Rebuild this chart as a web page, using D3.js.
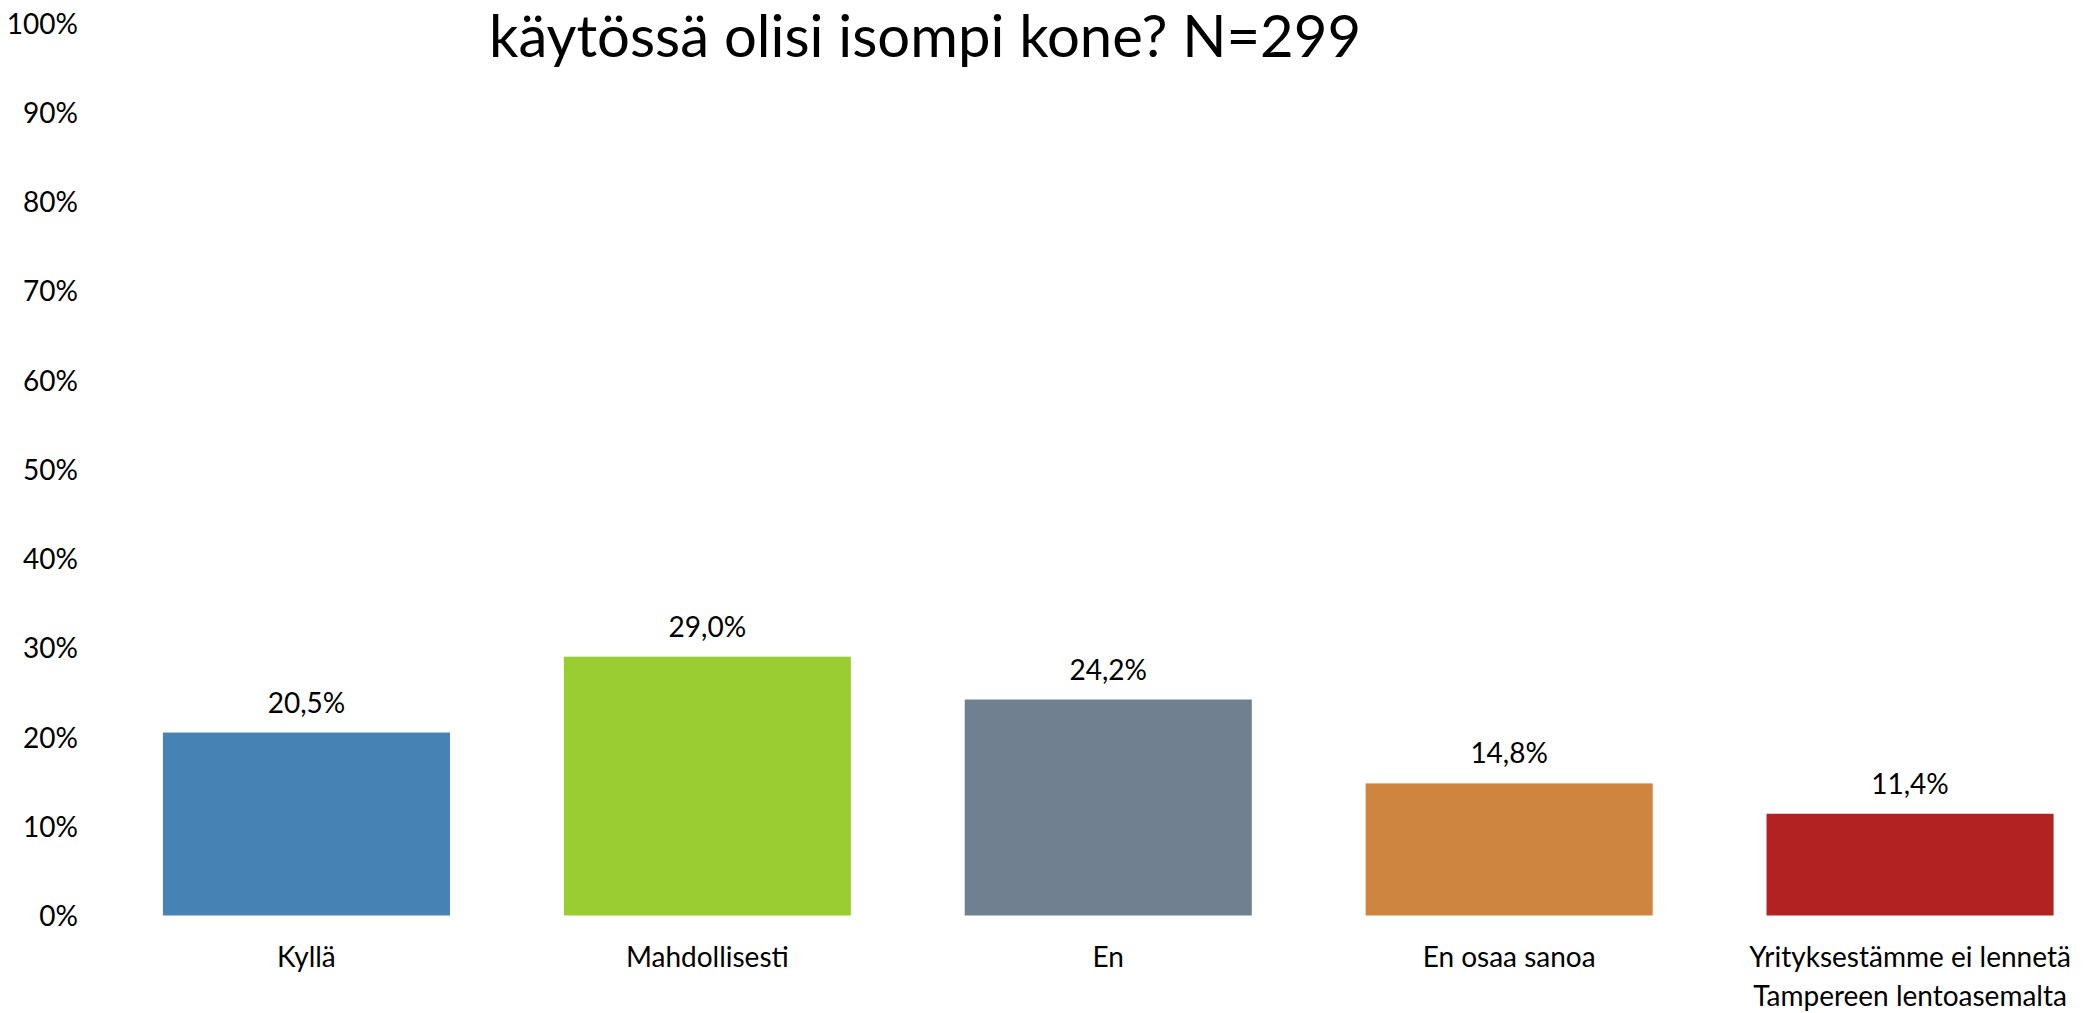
<!DOCTYPE html>
<html>
<head>
<meta charset="utf-8">
<script src="https://cdn.jsdelivr.net/npm/d3@7"></script>
<style>
  body { margin: 0; background: #fff; }
  text { font-family: Lato, "Open Sans", sans-serif; fill: #000; }
</style>
</head>
<body>
<svg id="chart"></svg>
<script>
// data
const categories = ["Kyllä", "Mahdollisesti", "En", "En osaa sanoa", "Yrityksestämme ei lennetä\nTampereen lentoasemalta"];
const values = [20.5, 29.0, 24.2, 14.8, 11.4];
const colors = ["#4682B4", "#9ACD32", "#708090", "#CD853F", "#B22222"];
const yTicks = [0, 10, 20, 30, 40, 50, 60, 70, 80, 90, 100];
const title = "käytössä olisi isompi kone? N=299";

const w = 2086;
const h = 1013;

const svg = d3.select("#chart")
  .attr("width", w)
  .attr("height", h);

// plot area runs past the right edge, like the cropped original
const x = d3.scaleBand()
  .domain(categories)
  .range([106, 2110.5])
  .paddingInner(0.284)
  .paddingOuter(0.142);

const y = d3.scaleLinear()
  .domain([0, 100])
  .range([915.5, 23]);

// y axis labels only
const yAxis = svg.append("g")
  .attr("transform", "translate(106,0)")
  .call(d3.axisLeft(y)
    .tickValues(yTicks)
    .tickSize(0)
    .tickPadding(28)
    .tickFormat(d => d + "%"));
yAxis.select(".domain").remove();
yAxis.selectAll("text")
  .attr("dy", "0.36em")
  .style("font-family", "Lato, 'Open Sans', sans-serif")
  .style("font-size", "28px")
  .attr("fill", "#000");

// bars
svg.selectAll("rect.bar")
  .data(values)
  .enter()
  .append("rect")
  .attr("class", "bar")
  .attr("x", (d, i) => x(categories[i]))
  .attr("y", d => y(d))
  .attr("width", x.bandwidth())
  .attr("height", d => y(0) - y(d))
  .attr("fill", (d, i) => colors[i]);

// value labels
svg.selectAll("text.val")
  .data(values)
  .enter()
  .append("text")
  .attr("class", "val")
  .attr("x", (d, i) => x(categories[i]) + x.bandwidth() / 2)
  .attr("y", d => y(d) - 20)
  .attr("text-anchor", "middle")
  .style("font-size", "28px")
  .text(d => d.toFixed(1).replace(".", ",") + "%");

// category labels (may wrap on two lines)
const cat = svg.selectAll("text.cat")
  .data(categories)
  .enter()
  .append("text")
  .attr("class", "cat")
  .attr("x", d => x(d) + x.bandwidth() / 2)
  .attr("y", 966.5)
  .attr("text-anchor", "middle")
  .style("font-size", "28px");

cat.each(function (d) {
  const t = d3.select(this);
  d.split("\n").forEach((line, k) => {
    t.append("tspan")
      .attr("x", x(d) + x.bandwidth() / 2)
      .attr("dy", k === 0 ? 0 : 39)
      .text(line);
  });
});

// title (upper line of it is cut off in the original)
svg.append("text")
  .attr("x", 925)
  .attr("y", 57)
  .attr("text-anchor", "middle")
  .style("font-size", "58px")
  .text(title);
</script>
</body>
</html>
